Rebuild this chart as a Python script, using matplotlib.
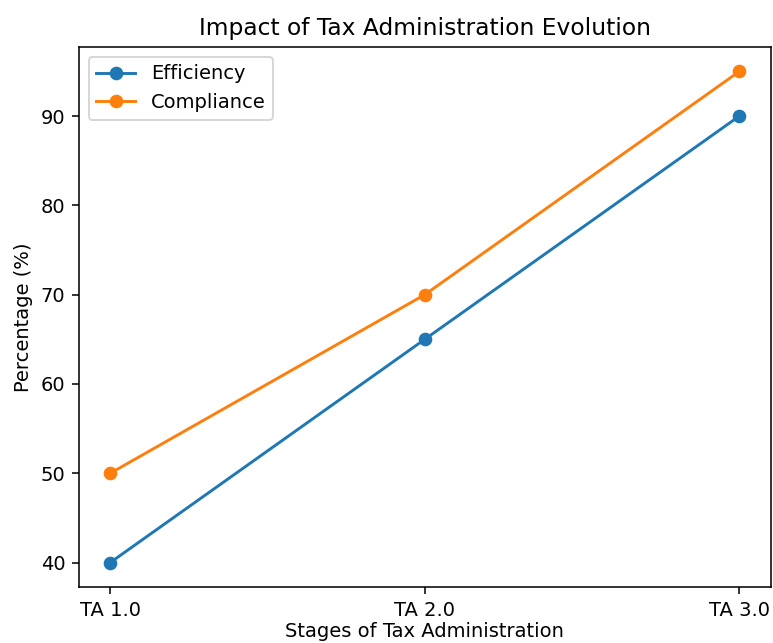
import matplotlib
matplotlib.use("Agg")
import matplotlib.pyplot as plt

stages = ["TA 1.0", "TA 2.0", "TA 3.0"]
efficiency = [40, 65, 90]
compliance = [50, 70, 95]

DPI = 140
fig = plt.figure(figsize=(773 / DPI, 643 / DPI), dpi=DPI)
ax = fig.add_axes([0.102, 0.087, 0.895, 0.840])

ax.plot(stages, efficiency, marker="o", label="Efficiency")
ax.plot(stages, compliance, marker="o", label="Compliance")

ax.set_title("Impact of Tax Administration Evolution")
# pulled up a little so the label is not clipped at the bottom edge
ax.set_xlabel("Stages of Tax Administration", labelpad=1)
ax.set_ylabel("Percentage (%)")
ax.legend(loc="upper left")

fig.savefig("out.png", dpi=DPI)
